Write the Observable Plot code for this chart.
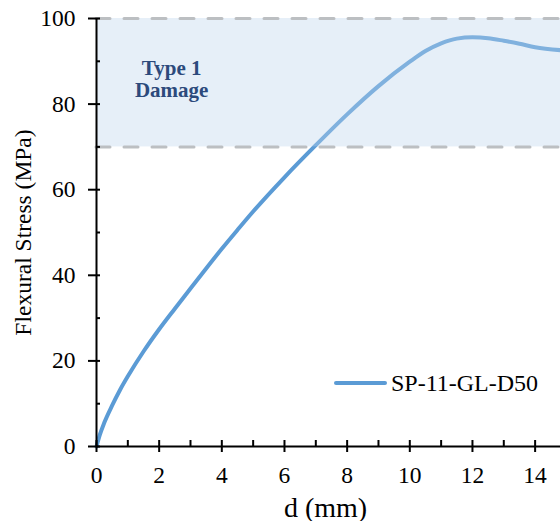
<!DOCTYPE html>
<html>
<head>
<meta charset="utf-8">
<script src="https://cdn.jsdelivr.net/npm/d3@7"></script>
<script src="https://cdn.jsdelivr.net/npm/@observablehq/plot@0.6"></script>
<style>
  html, body { margin: 0; padding: 0; background: #fff; }
  #wrap { position: relative; width: 560px; height: 521px; }
  #legend { position: absolute; left: 334px; top: 371px; height: 24px; display: flex; align-items: center;
            font-family: "Liberation Serif", "Times New Roman", serif; font-size: 24px; line-height: 24px; color: #000; }
  #legend .sw { width: 53px; height: 4px; border-radius: 2px; background: #5b9bd5; margin-right: 4px; }
</style>
</head>
<body>
<div id="wrap"><div id="legend"><span class="sw"></span><span id="legendText"></span></div></div>
<script>
// ---- data ----
const dValues      = [0, 0.1, 0.25, 0.5, 0.75, 1, 1.5, 2, 2.5, 3, 3.5, 4, 4.5, 5, 6, 7, 8, 9, 10, 10.5, 11, 11.5, 12, 12.5, 13, 13.5, 14, 14.81];
const stressValues = [0, 2.6, 5.6, 9.6, 13.2, 16.4, 22.2, 27.4, 32.2, 36.9, 41.6, 46.2, 50.6, 54.9, 62.9, 70.4, 77.6, 84.2, 89.9, 92.4, 94.2, 95.3, 95.6, 95.4, 94.8, 94.1, 93.3, 92.6];
const seriesName = "SP-11-GL-D50";
const xMajor = [0, 2, 4, 6, 8, 10, 12, 14];
const xMinor = [1, 3, 5, 7, 9, 11, 13];
const yMajor = [0, 20, 40, 60, 80, 100];
const yMinor = [10, 30, 50, 70, 90];
const bandLow = [70];
const bandHigh = [100];
const bandLabel = "Type 1\nDamage";
const bandLabelPos = [2.4, 85.8];
const xDomain = [0, 14.81];
const yDomain = [0, 100];
const xTitle = "d (mm)";
const yTitle = "Flexural Stress (MPa)";

const data = dValues.map((d, i) => ({d, s: stressValues[i]}));
const band = bandLow.map((lo, i) => ({x1: xDomain[0], x2: xDomain[1], y1: lo, y2: bandHigh[i]}));

const W = 560, H = 521, mL = 96, mR = 0, mT = 18, mB = 75;
const fw = W - mL - mR, fh = H - mT - mB;
const font = "'Liberation Serif', 'Times New Roman', serif";

const chart = Plot.plot({
  width: W, height: H,
  marginLeft: mL, marginRight: mR, marginTop: mT, marginBottom: mB,
  style: {fontFamily: font, background: "#fff", overflow: "visible"},
  x: {domain: xDomain, axis: null},
  y: {domain: yDomain, axis: null},
  marks: [
    Plot.line(data, {x: "d", y: "s", stroke: "#5b9bd5", strokeWidth: 4, curve: "monotone-x", strokeLinecap: "round"}),
    Plot.rect(band, {x1: "x1", x2: "x2", y1: "y1", y2: "y2", fill: "rgb(188,214,237)", fillOpacity: 0.38}),
    Plot.ruleY([...bandLow, ...bandHigh], {y: d => d, stroke: "#bcbfc2", strokeWidth: 3, strokeDasharray: "14,14", strokeLinecap: "round"}),
    Plot.text([bandLabel], {x: () => bandLabelPos[0], y: () => bandLabelPos[1], text: d => d, fontWeight: "bold",
      fill: "#2c4a7c", fontSize: 21, lineHeight: 1.05, lineAnchor: "middle", textAnchor: "middle", fontFamily: font}),
    // axis lines
    Plot.ruleX([0], {x: d => d, stroke: "#000", strokeWidth: 2}),
    Plot.ruleY([0], {y: d => d, stroke: "#000", strokeWidth: 2}),
    // ticks
    Plot.tickY(yMajor, {y: d => d, stroke: "#000", strokeWidth: 2, insetRight: fw - 12, dx: -8}),
    Plot.tickY(yMinor, {y: d => d, stroke: "#000", strokeWidth: 2, insetRight: fw - 4}),
    Plot.tickX(xMajor, {x: d => d, stroke: "#000", strokeWidth: 2, insetTop: fh - 12, dy: 6}),
    Plot.tickX(xMinor, {x: d => d, stroke: "#000", strokeWidth: 2, insetTop: fh - 6}),
    // tick labels
    Plot.text(xMajor, {x: d => d, text: d => String(d), frameAnchor: "bottom", dy: 36, lineAnchor: "bottom",
      textAnchor: "middle", fontSize: 23.5, fill: "#000", fontFamily: font}),
    Plot.text(yMajor, {y: d => d, text: d => String(d), frameAnchor: "left", dx: -21, textAnchor: "end",
      lineAnchor: "middle", fontSize: 23.5, fill: "#000", fontFamily: font}),
    // axis titles
    Plot.text([xTitle], {text: d => d, frameAnchor: "bottom", dx: -3, dy: 70, lineAnchor: "bottom", textAnchor: "middle",
      fontSize: 28, fill: "#000", fontFamily: font}),
    Plot.text([yTitle], {text: d => d, frameAnchor: "left", dx: -73.5, rotate: -90, lineAnchor: "middle",
      textAnchor: "middle", fontSize: 23.5, fill: "#000", fontFamily: font})
  ]
});
document.getElementById("wrap").prepend(chart);
document.getElementById("legendText").textContent = seriesName;
</script>
</body>
</html>
